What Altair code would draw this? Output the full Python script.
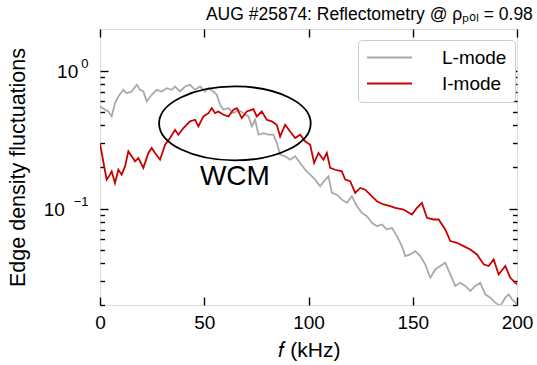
import altair as alt
import pandas as pd

FONT = "Liberation Sans"

# ---- data ----
l_f = [0, 2.4, 4, 5.6, 7.2, 8.8, 11.2, 12.8, 15.2, 17.6, 19.2, 20.8, 22.4, 24.8, 27.2, 29.6, 32, 34.4,
       36, 38.4, 40.8, 43.2, 45.6, 48, 50.4, 52, 54.4, 56, 57.6, 59.2, 61.6, 64, 66.4, 68.8, 71.2, 72.8,
       74.4, 76, 78.4, 80.8, 83.2, 84.8, 86.4, 88.8, 91.2, 93.6, 96, 98.4, 100.8, 103.2, 105.6, 108,
       109.6, 111.2, 113.6, 116, 118.4, 120.8, 123.2, 125.6, 128, 130.4, 132.8, 135.2, 137.6, 140,
       142.4, 144.8, 146.4, 148.8, 151.2, 153.6, 156, 158.4, 160.8, 163.2, 165.6, 168, 170.4, 172.8,
       175.2, 177.6, 180, 182.4, 184.8, 187.2, 189.6, 192, 194.4, 196, 197.6, 200]
l_v = [0.55, 0.52, 0.505, 0.465, 0.581, 0.649, 0.725, 0.686, 0.705, 0.788, 0.725, 0.705, 0.597, 0.667,
       0.725, 0.705, 0.745, 0.725, 0.766, 0.705, 0.766, 0.788, 0.725, 0.766, 0.705, 0.745, 0.705, 0.667,
       0.565, 0.520, 0.534, 0.491, 0.520, 0.491, 0.465, 0.394, 0.440, 0.343, 0.352, 0.343, 0.343, 0.298,
       0.246, 0.239, 0.226, 0.239, 0.214, 0.191, 0.176, 0.162, 0.145, 0.162, 0.171, 0.130, 0.126, 0.116,
       0.110, 0.123, 0.104, 0.0930, 0.0880, 0.0788, 0.0745, 0.0766, 0.0705, 0.0725, 0.0631, 0.0534,
       0.0452, 0.0465, 0.0491, 0.0452, 0.0394, 0.0315, 0.0362, 0.0383, 0.0405, 0.0333, 0.0275, 0.0290,
       0.0275, 0.0253, 0.0275, 0.0290, 0.0239, 0.0226, 0.0208, 0.0197, 0.0226, 0.0239, 0.0220, 0.0202]

i_f = [0, 3.2, 4.8, 5.6, 7.2, 8.8, 10.4, 12, 13.6, 15.2, 16.8, 18.4, 20.8, 23.2, 24.8, 26.4, 28.8, 31.2,
       33.6, 36, 37.6, 40, 43.2, 45.6, 47.2, 49.6, 52, 53.6, 55.2, 56.8, 59.2, 61.6, 64, 65.6, 68, 70.4,
       73.6, 75.2, 77.6, 80, 82.4, 84.8, 86.4, 88.8, 91.2, 93.6, 96, 98.4, 100.8, 102.7, 104.8, 107.2,
       108.8, 110.4, 112.8, 116, 117.6, 120, 122.4, 124.8, 127.2, 129.6, 132.8, 136, 139.2, 141.6,
       145.6, 149.6, 152, 154.4, 156.8, 160, 162.4, 165.6, 168, 171.2, 174.4, 177.6, 180.8, 184, 186.4,
       188.8, 191.2, 194.4, 196.8, 200]
i_v = [0.295, 0.162, 0.176, 0.186, 0.153, 0.191, 0.176, 0.202, 0.260, 0.239, 0.220, 0.232, 0.197, 0.253,
       0.275, 0.253, 0.226, 0.290, 0.324, 0.372, 0.343, 0.383, 0.428, 0.440, 0.394, 0.465, 0.491, 0.534,
       0.491, 0.505, 0.478, 0.465, 0.520, 0.534, 0.452, 0.505, 0.525, 0.465, 0.505, 0.440, 0.428, 0.405,
       0.333, 0.405, 0.362, 0.324, 0.343, 0.307, 0.290, 0.214, 0.253, 0.226, 0.253, 0.197, 0.191, 0.186,
       0.162, 0.158, 0.130, 0.141, 0.137, 0.126, 0.113, 0.107, 0.104, 0.101, 0.0984, 0.0905, 0.101, 0.110,
       0.0856, 0.0833, 0.0833, 0.0705, 0.0581, 0.0565, 0.0534, 0.0505, 0.0465, 0.0394, 0.0383, 0.0428,
       0.0333, 0.0383, 0.0315, 0.0282]

modes = ["L-mode", "I-mode"]
colors = ["#aaaaaa", "#c80000"]

x_ticks = [0, 50, 100, 150, 200]
y_major = [0.1, 1]
y_minor = [0.02, 0.03, 0.04, 0.05, 0.06, 0.07, 0.08, 0.09, 0.2, 0.3, 0.4, 0.5, 0.6, 0.7, 0.8, 0.9]

wcm_f = [64.7]
wcm_ellipse_v = [0.414]
wcm_text_v = [0.168]
wcm_label = ["WCM"]

ELLIPSE = ("M 1 0 C 1 0.2695 0.5523 0.488 0 0.488 C -0.5523 0.488 -1 0.2695 -1 0 "
           "C -1 -0.2695 -0.5523 -0.488 0 -0.488 C 0.5523 -0.488 1 -0.2695 1 0 Z")
LEG_LINE = "M -3 0 L 3 0"

# ---- frames ----
df_l = pd.DataFrame({"f": l_f, "v": l_v, "mode": modes[0]})
df_i = pd.DataFrame({"f": i_f, "v": i_v, "mode": modes[1]})
df_e = pd.DataFrame({"f": wcm_f, "v": wcm_ellipse_v})
df_t = pd.DataFrame({"f": wcm_f, "v": wcm_text_v, "label": wcm_label})

xs = alt.Scale(domain=[0, 200], nice=False, zero=False)
ys = alt.Scale(type="log", domain=[0.02, 2], nice=False)


def tick_axis(orient, values, size, **kw):
    opts = dict(orient=orient, values=values, offset=-size, tickSize=size, labels=False,
                domain=False, grid=False, title=None, tickColor="black", tickWidth=1.4)
    opts.update(kw)
    return alt.Axis(**opts)


ax_x_main = alt.Axis(orient="bottom", values=x_ticks, offset=-8, tickSize=8, labelPadding=8,
                     labelFontSize=19, labelFont=FONT, labelColor="black", labelFlush=False,
                     labelOverlap=False, title="𝑓 (kHz)", titleFontSize=21, titleFont=FONT,
                     titleFontWeight="normal", titleColor="black", titlePadding=7, domain=False,
                     grid=False, tickColor="black", tickWidth=1.4)

# "10" part of the y tick labels
ax_y_base = alt.Axis(orient="left", values=y_major, ticks=False, tickSize=0, domain=False, grid=False,
                     labelExpr="'10'", labelFontSize=19, labelFont=FONT, labelColor="black",
                     labelAlign="right", labelBaseline="alphabetic", labelOffset=7.4,
                     labelPadding={"condition": {"test": "datum.value >= 1", "value": 22.3},
                                   "value": 35.7},
                     labelFlush=False, labelOverlap=False,
                     title="Edge density fluctuations", titleFontSize=21.5, titleFont=FONT,
                     titleFontWeight="normal", titleColor="black", titlePadding=14)

# exponent part of the y tick labels, on the inward major-tick axis
ax_y_exp = tick_axis("left", y_major, 8, labels=True,
                     labelExpr="datum.value >= 1 ? '0' : '−1'", labelFontSize=13, labelFont=FONT,
                     labelColor="black", labelAlign="right", labelBaseline="alphabetic",
                     labelOffset=-3, labelPadding=12, labelFlush=False, labelOverlap=False)

color = alt.Color("mode:N", scale=alt.Scale(domain=modes, range=colors),
                  legend=alt.Legend(orient="none", legendX=258, legendY=11, title=None,
                                    symbolType=LEG_LINE, symbolSize=225, symbolStrokeWidth=1.8,
                                    symbolOffset=14, labelFontSize=19, labelFont=FONT,
                                    labelColor="black", labelOffset=43, rowPadding=6, padding=8,
                                    fillColor="white", strokeColor="#cccccc", cornerRadius=4))

gray = alt.Chart(df_l).mark_line(strokeWidth=1.8, clip=True).encode(
    x=alt.X("f:Q", scale=xs, axis=ax_x_main),
    y=alt.Y("v:Q", scale=ys, axis=ax_y_base),
    color=color)

red = alt.Chart(df_i).mark_line(strokeWidth=1.8, clip=True).encode(
    x=alt.X("f:Q", scale=xs, axis=tick_axis("top", x_ticks, 8)),
    y=alt.Y("v:Q", scale=ys, axis=ax_y_exp),
    color=color)

ellipse = alt.Chart(df_e).mark_point(shape=ELLIPSE, size=22983, filled=False, stroke="black",
                                     strokeWidth=1.8, opacity=1).encode(
    x=alt.X("f:Q", scale=xs, axis=None),
    y=alt.Y("v:Q", scale=ys, axis=tick_axis("left", y_minor, 4.5)))

text = alt.Chart(df_t).mark_text(font=FONT, fontSize=28, color="black", align="center",
                                 baseline="middle").encode(
    x=alt.X("f:Q", scale=xs, axis=None),
    y=alt.Y("v:Q", scale=ys, axis=tick_axis("right", y_major, 8)),
    text="label:N")

helper = alt.Chart(df_e).mark_point(opacity=0).encode(
    x=alt.X("f:Q", scale=xs, axis=None),
    y=alt.Y("v:Q", scale=ys, axis=tick_axis("right", y_minor, 4.5)))

chart = alt.layer(gray, red, ellipse, text, helper).resolve_axis(
    x="independent", y="independent"
).properties(
    width=417, height=276,
    autosize=alt.AutoSizeParams(type="none"),
    padding={"left": 100, "top": 29, "right": 20, "bottom": 60},
    title=alt.TitleParams(text="AUG #25874: Reflectometry @ ρₚₒₗ = 0.98", anchor="end",
                          fontSize=17.5, font=FONT, fontWeight="normal", color="black", offset=5),
).configure_view(stroke="black", strokeWidth=1.6).configure(background="white")

chart.save("out.html", embed_options={"renderer": "svg", "actions": False})
